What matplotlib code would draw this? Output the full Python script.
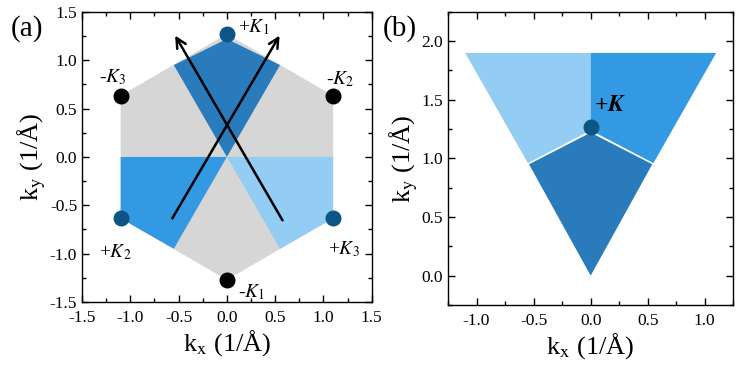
import matplotlib
matplotlib.use("Agg")
import matplotlib.pyplot as plt
from matplotlib.ticker import MultipleLocator

plt.rcParams['font.family'] = ['Liberation Serif', 'DejaVu Serif']
plt.rcParams['mathtext.fontset'] = 'stix'

# ---------------- data: panel (a) ----------------
hexagon_x = [0.0, 1.1, 1.1, 0.0, -1.1, -1.1]
hexagon_y = [1.27, 0.635, -0.635, -1.27, -0.635, 0.635]
kite_top_x = [0.0, -0.55, 0.0, 0.55]
kite_top_y = [0.0, 0.95, 1.22, 0.95]
kite_left_x = [0.0, -1.1, -1.1, -0.55]
kite_left_y = [0.0, 0.0, -0.635, -0.95]
kite_right_x = [0.0, 0.55, 1.1, 1.1]
kite_right_y = [0.0, -0.95, -0.635, 0.0]
kplus_x = [0.0, -1.1, 1.1]
kplus_y = [1.27, -0.635, -0.635]
kminus_x = [0.0, 1.1, -1.1]
kminus_y = [-1.27, 0.635, 0.635]
k_labels = [r'+$K_1$', r'+$K_2$', r'+$K_3$', r'-$K_1$', r'-$K_2$', r'-$K_3$']
k_label_x = [0.12, -1.32, 1.05, 0.12, 1.03, -1.32]
k_label_y = [1.34, -0.98, -0.95, -1.40, 0.80, 0.82]
arrow_start_x = [-0.58, 0.59]
arrow_start_y = [-0.66, -0.68]
arrow_end_x = [0.56, -0.55]
arrow_end_y = [1.28, 1.28]

# ---------------- data: panel (b) ----------------
tri_left_x = [-1.1, 0.0, 0.0, -0.55]
tri_left_y = [1.9, 1.9, 1.24, 0.96]
tri_right_x = [0.0, 1.1, 0.55, 0.0]
tri_right_y = [1.9, 1.9, 0.96, 1.24]
tri_bottom_x = [0.0, -0.54, 0.0, 0.54]
tri_bottom_y = [1.22, 0.95, 0.0, 0.95]
kb_x = [0.0]
kb_y = [1.27]

gray = '#d6d6d6'
dark_blue = '#2a7bbb'
mid_blue = '#3399e2'
light_blue = '#93cdf4'
kplus_color = '#0d5585'

fig = plt.figure(figsize=(7.41, 3.71), dpi=100)
axa = fig.add_axes([0.1107, 0.186, 0.391, 0.782])
axb = fig.add_axes([0.6046, 0.178, 0.385, 0.79])

# panel (a)
axa.fill(hexagon_x, hexagon_y, color=gray, lw=0)
axa.fill(kite_top_x, kite_top_y, color=dark_blue, lw=0)
axa.fill(kite_left_x, kite_left_y, color=mid_blue, lw=0)
axa.fill(kite_right_x, kite_right_y, color=light_blue, lw=0)
for sx, sy, ex, ey in zip(arrow_start_x, arrow_start_y, arrow_end_x, arrow_end_y):
    axa.annotate('', xy=(ex, ey), xytext=(sx, sy),
                 arrowprops=dict(arrowstyle='->,head_length=0.7,head_width=0.35', color='black', lw=1.8))
axa.scatter(kplus_x, kplus_y, s=110, color=kplus_color, zorder=5)
axa.scatter(kminus_x, kminus_y, s=110, color='black', zorder=5)
for lab, lx, ly in zip(k_labels, k_label_x, k_label_y):
    axa.text(lx, ly, lab, fontsize=14, ha='left', va='center')
axa.set_xlim(-1.5, 1.5)
axa.set_ylim(-1.5, 1.5)
axa.set_xlabel(r'k$_\mathrm{x}$ (1/Å)', fontsize=19, labelpad=1)
axa.set_ylabel(r'k$_\mathrm{y}$ (1/Å)', fontsize=19, labelpad=1)
axa.text(-0.245, 0.99, '(a)', transform=axa.transAxes, fontsize=21, va='top', ha='left')

# panel (b)
axb.fill(tri_left_x, tri_left_y, color=light_blue, lw=0)
axb.fill(tri_right_x, tri_right_y, color=mid_blue, lw=0)
axb.fill(tri_bottom_x, tri_bottom_y, color=dark_blue, lw=0)
axb.scatter(kb_x, kb_y, s=110, color=kplus_color, zorder=5)
axb.text(0.03, 1.45, r'+$\boldsymbol{K}$', fontsize=17, fontweight='bold', ha='left', va='center')
axb.set_xlim(-1.25, 1.25)
axb.set_ylim(-0.25, 2.25)
axb.set_xlabel(r'k$_\mathrm{x}$ (1/Å)', fontsize=19, labelpad=1)
axb.set_ylabel(r'k$_\mathrm{y}$ (1/Å)', fontsize=19, labelpad=1)
axb.text(-0.23, 0.99, '(b)', transform=axb.transAxes, fontsize=21, va='top', ha='left')

for ax in (axa, axb):
    ax.xaxis.set_major_locator(MultipleLocator(0.5))
    ax.yaxis.set_major_locator(MultipleLocator(0.5))
    ax.xaxis.set_minor_locator(MultipleLocator(0.25))
    ax.yaxis.set_minor_locator(MultipleLocator(0.25))
    ax.xaxis.set_major_formatter(plt.FormatStrFormatter('%.1f'))
    ax.yaxis.set_major_formatter(plt.FormatStrFormatter('%.1f'))
    ax.tick_params(which='both', direction='in', top=True, right=True, labelsize=12.5)
    ax.tick_params(which='major', length=5, width=1)
    ax.tick_params(which='minor', length=3, width=1)
    ax.tick_params(axis='x', which='major', pad=6)
    for sp in ax.spines.values():
        sp.set_linewidth(1)

fig.savefig('out.png', dpi=100)
